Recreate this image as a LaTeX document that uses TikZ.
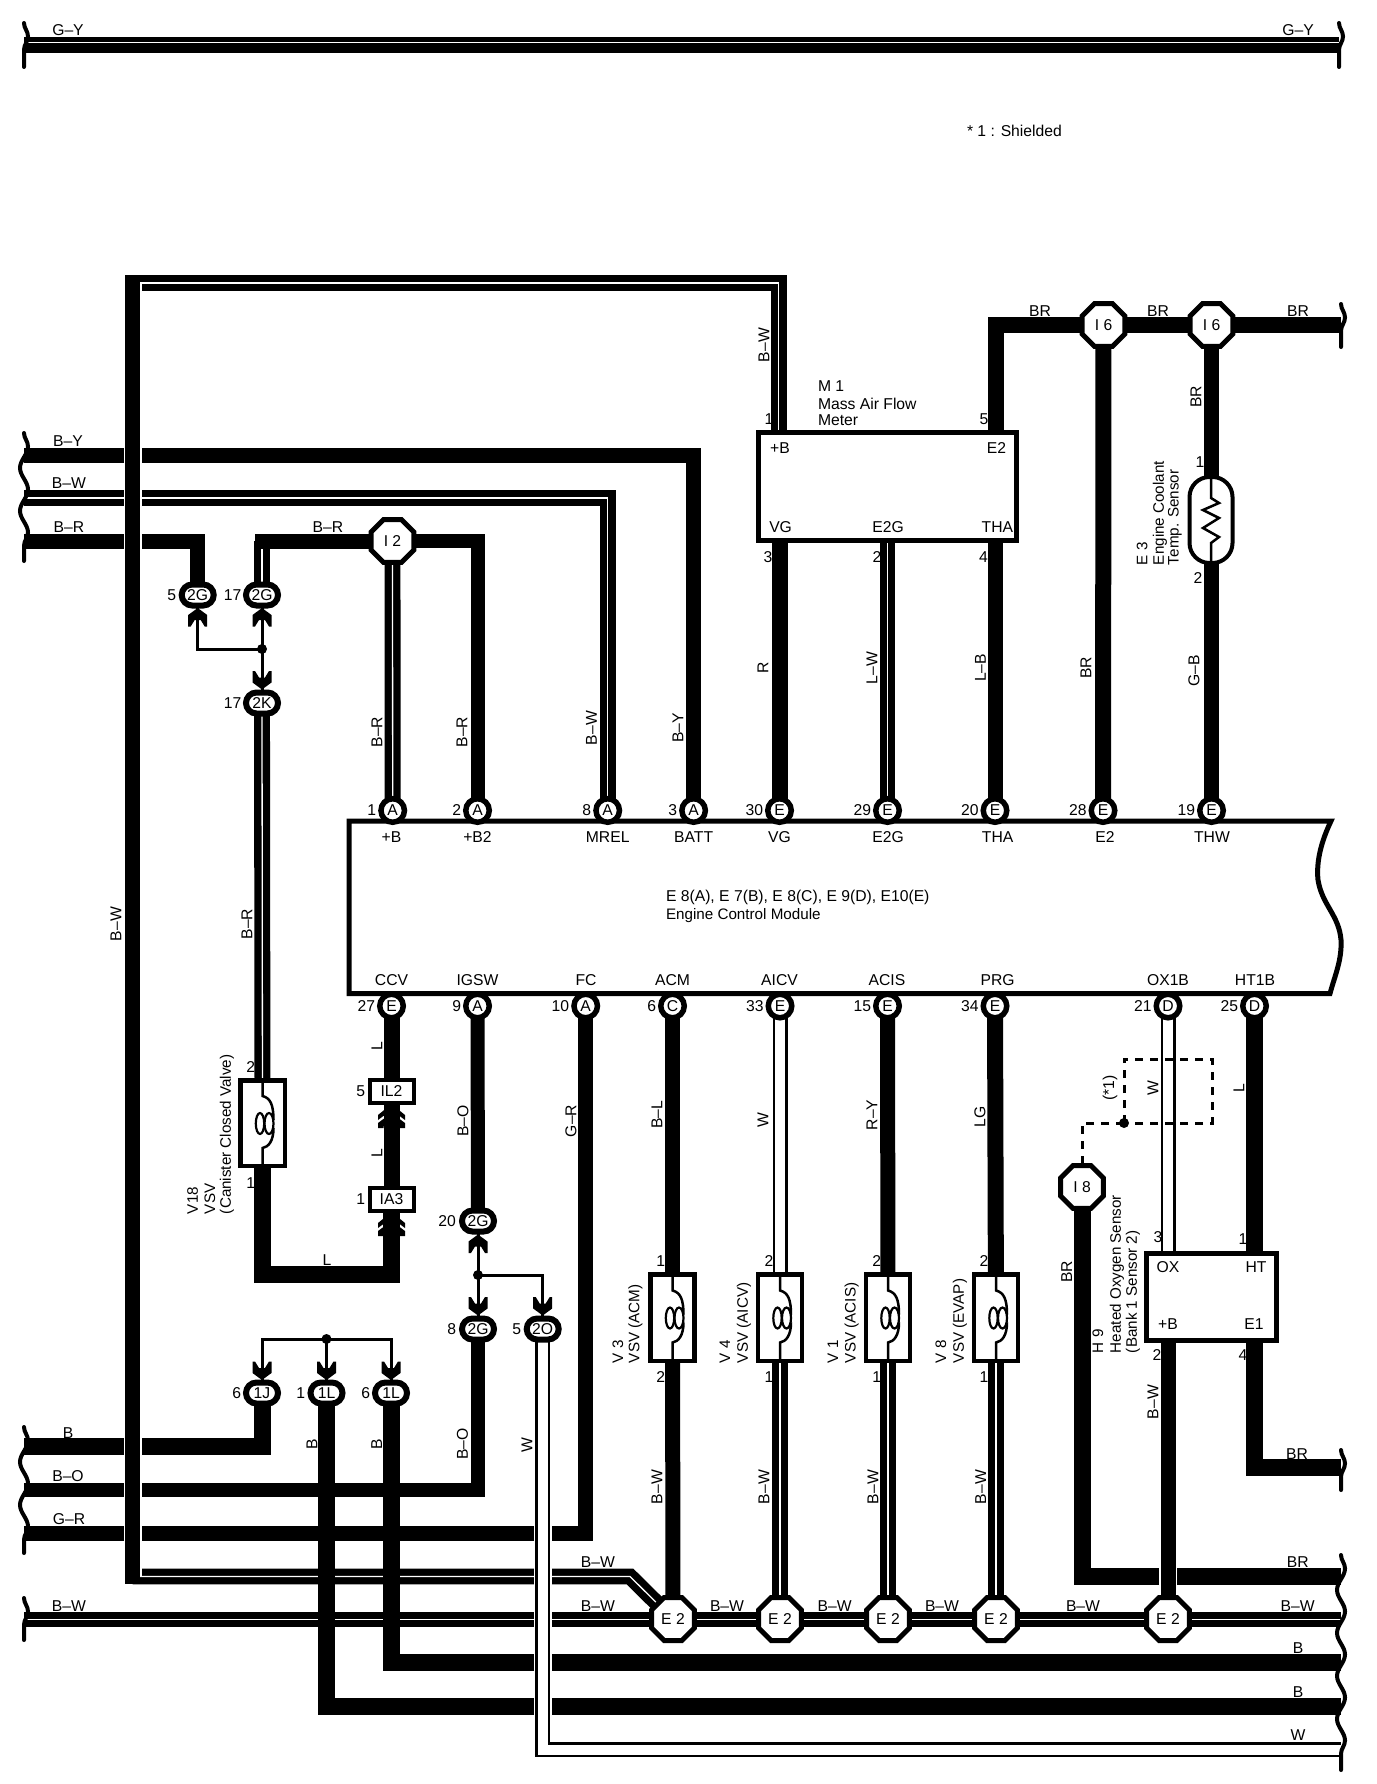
\documentclass[tikz,border=0pt]{standalone}
\usepackage{fontspec}
\setmainfont{Liberation Sans}
\usetikzlibrary{shapes.geometric,shapes.misc,backgrounds,decorations.pathmorphing}
\newcommand{\lf}{\fontsize{15.7}{19}\selectfont}
\newcommand{\lfsmall}{\fontsize{15.2}{19}\selectfont}
\tikzset{
 lab/.style={font=\lf,inner sep=0,outer sep=0},
 rlab/.style={lab,rotate=90},
 rlabw/.style={lab,font=\lfsmall,rotate=90,anchor=west,align=left},
 pinc/.style={circle,draw,line width=5.5,fill=white,minimum size=23.5,inner sep=0,outer sep=0,font=\lf},
 ovalc/.style={rounded rectangle,draw,line width=6,fill=white,minimum width=32,minimum height=21,inner sep=0,outer sep=0,font=\lf},
 octa/.style={regular polygon,regular polygon sides=8,draw,line width=5,fill=white,minimum size=46.5,inner sep=0,outer sep=0,font=\lf},
 boxn/.style={rectangle,draw,line width=4.5,fill=white,inner sep=0,outer sep=0,font=\lf},
 dotn/.style={circle,fill=black,minimum size=10,inner sep=0,outer sep=0},
 wire/.style={line width=16},
 wirea/.style={line width=14},
 wireb/.style={line width=15},
 wirec/.style={line width=17},
 stripe/.style={line width=7.3,double=white,double distance=1.3},
 whitew/.style={line width=2.5,double=white,double distance=10},
 thinw/.style={line width=3},
 halo/.style={white,line width=18},
 dashw/.style={line width=3,dash pattern=on 8pt off 7pt},
 wavy/.style={line width=4,line cap=round,decorate,decoration={snake,segment length=43,amplitude=4}},
 inner/.style={line width=2.5},
}
\newcommand{\pinnode}[5]{\node[pinc] (#1) at (#2,#3) {#4};\node[lab,anchor=east] (#1n) at ({#2-16.5},#3) {#5};}
\newcommand{\ovalnode}[6]{\node[ovalc] (#1) at (#2,#3) {#4};\node[lab] (#1n) at (#6,#3) {#5};}
\newcommand{\conarrow}[3]{\fill (#1,#2) -- ({#1+9.5},{#2+7*#3}) -- ({#1+9.5},{#2+18.5*#3}) -- ({#1+7},{#2+18.5*#3}) -- ({#1+3},{#2+12*#3}) -- ({#1-3},{#2+12*#3}) -- ({#1-7},{#2+18.5*#3}) -- ({#1-9.5},{#2+18.5*#3}) -- ({#1-9.5},{#2+7*#3}) -- cycle;}
\newcommand{\chevrons}[2]{\fill (#1,#2) -- ({#1+13.5},{#2+11}) -- ({#1+13.5},{#2+16}) -- (#1,{#2+6}) -- ({#1-13.5},{#2+16}) -- ({#1-13.5},{#2+11}) -- cycle;
 \fill (#1,{#2+9}) -- ({#1+13.5},{#2+19}) -- ({#1+13.5},{#2+24}) -- ({#1+8},{#2+24}) -- ({#1+8},{#2+22}) -- ({#1-8},{#2+22}) -- ({#1-8},{#2+24}) -- ({#1-13.5},{#2+24}) -- ({#1-13.5},{#2+19}) -- cycle;}
\newcommand{\coilsym}[2]{\begin{scope}[shift={(#1,#2)},inner]
\draw (0,-43) -- (0,-27) .. controls (8,-25) and (11,-18) .. (11,-3);
\draw (11,5) .. controls (11,18) and (6,24) .. (0,25) -- (0,43);
\draw[line width=2.2] (-2.5,0.5) ellipse (4.2 and 10.5);
\draw[line width=2.2] (6.5,0.5) ellipse (4.5 and 10.5);
\end{scope}}
\newcommand{\wavyend}[4]{\coordinate (#1a) at (#2,#3);\coordinate (#1b) at (#2,#4);\draw[wavy] (#1a) -- (#1b);}
\begin{document}
\begin{tikzpicture}[x=1pt,y=-1pt]
\useasboundingbox (0,0) rectangle (1376,1784);
% module and box outlines
\draw[line width=5,fill=white] (349,821) -- (1331,821) .. controls (1322,840) and (1316,860) .. (1318,880) .. controls (1322,905) and (1339,915) .. (1341,940) .. controls (1342,960) and (1335,975) .. (1330,993.5) -- (349,993.5) -- cycle;
\node[boxn,line width=5,minimum width=258,minimum height=108] (M1) at (887.5,486.5) {};
\node[boxn,line width=5,minimum width=130,minimum height=87] (H9) at (1211,1296.5) {};
\node[boxn,minimum width=44.5,minimum height=85.5] (V18) at (262.5,1123) {};
\node[boxn,minimum width=44,minimum height=86.5] (V3) at (672.5,1317.5) {};
\node[boxn,minimum width=44,minimum height=86.5] (V4) at (780,1317.5) {};
\node[boxn,minimum width=44,minimum height=86.5] (V1) at (888,1317.5) {};
\node[boxn,minimum width=44,minimum height=86.5] (V8) at (996,1317.5) {};
\node[boxn,line width=4,minimum width=44,minimum height=23] (IL2) at (391.5,1091.5) {IL2};
\node[boxn,line width=4,minimum width=44,minimum height=23] (IA3) at (391.5,1199.5) {IA3};
\node[boxn,line width=4,rounded corners=20,minimum width=43,minimum height=86] (E3) at (1211,520) {};
\coilsym{262.5}{1123}
\coilsym{672.5}{1317.5}
\coilsym{780}{1317.5}
\coilsym{888}{1317.5}
\coilsym{996}{1317.5}
\draw[inner] (1211,476) -- (1211,498) -- (1219,503) -- (1203,510) -- (1219,518) -- (1203,528) -- (1219,537) -- (1211,543) -- (1211,564);
% pins on the module
\pinnode{pA1}{392.7}{810.5}{A}{1}
\pinnode{pA2}{477.5}{810.5}{A}{2}
\pinnode{pA8}{607.7}{810.5}{A}{8}
\pinnode{pA3}{693.6}{810.5}{A}{3}
\pinnode{pE30}{779.5}{810.5}{E}{30}
\pinnode{pE29}{887.5}{810.5}{E}{29}
\pinnode{pE20}{995}{810.5}{E}{20}
\pinnode{pE28}{1103}{810.5}{E}{28}
\pinnode{pE19}{1211.5}{810.5}{E}{19}
\pinnode{pE27}{391.5}{1006}{E}{27}
\pinnode{pA9}{477.5}{1006}{A}{9}
\pinnode{pA10}{585.7}{1006}{A}{10}
\pinnode{pC6}{672.5}{1006}{C}{6}
\pinnode{pE33}{780}{1006}{E}{33}
\pinnode{pE15}{887.5}{1006}{E}{15}
\pinnode{pE34}{995}{1006}{E}{34}
\pinnode{pD21}{1168}{1006}{D}{21}
\pinnode{pD25}{1254.5}{1006}{D}{25}
% oval connectors
\ovalnode{g5}{197.7}{595}{2G}{5}{171.7}
\ovalnode{g17}{262}{595}{2G}{17}{232.7}
\ovalnode{k17}{262}{703}{2K}{17}{232.7}
\ovalnode{g20}{478}{1221}{2G}{20}{447}
\ovalnode{g8}{478}{1329}{2G}{8}{451.7}
\ovalnode{o5}{542.7}{1329}{2O}{5}{516.7}
\ovalnode{j6}{262}{1393}{1J}{6}{236.7}
\ovalnode{l1}{326.5}{1393}{1L}{1}{300.7}
\ovalnode{l6}{391}{1393}{1L}{6}{365.7}
% octagons
\node[octa] (I2) at (392.5,541) {I 2};
\node[octa] (I6a) at (1103.5,325) {I 6};
\node[octa] (I6b) at (1211.5,325) {I 6};
\node[octa] (I8) at (1082,1187) {I 8};
\node[octa] (E2a) at (673,1619) {E 2};
\node[octa] (E2b) at (780,1619) {E 2};
\node[octa] (E2c) at (888,1619) {E 2};
\node[octa] (E2d) at (996,1619) {E 2};
\node[octa] (E2e) at (1168,1619) {E 2};
% splice dots
\node[dotn] (d1) at (262,649) {};
\node[dotn] (d2) at (478,1275) {};
\node[dotn] (d3) at (326.5,1339) {};
\node[dotn] (dS) at (1124,1123) {};
% connector arrows
\conarrow{197.7}{608}{1}
\conarrow{262}{608}{1}
\conarrow{262}{689.5}{-1}
\conarrow{478}{1234.5}{1}
\conarrow{478}{1315.5}{-1}
\conarrow{542.7}{1315.5}{-1}
\conarrow{262}{1380}{-1}
\conarrow{326.5}{1380}{-1}
\conarrow{391}{1380}{-1}
\chevrons{391.5}{1104}
\chevrons{391.5}{1212}
% free ends
\wavyend{wT}{24}{23}{67}
\wavyend{wU}{1339}{23}{67}
\wavyend{wA}{24}{433}{561}
\wavyend{wB}{24}{1427}{1553}
\wavyend{wC}{24}{1598}{1640}
\wavyend{wD}{1341}{304}{347}
\wavyend{wE}{1341}{1450}{1490}
\wavyend{wF}{1341}{1555}{1770}
\coordinate (topL) at (24,45); \coordinate (topR) at (1339,45);
\coordinate (lBY) at (24,455); \coordinate (lBW) at (24,498); \coordinate (lBR) at (24,541.5);
\coordinate (lB) at (24,1446.5); \coordinate (lBO) at (24,1490); \coordinate (lGR) at (24,1533.5);
\coordinate (lBus) at (24,1619.5); \coordinate (rBus) at (1341,1619.5);
\coordinate (rBR) at (1341,325); \coordinate (rBRa) at (1341,1467); \coordinate (rBRb) at (1341,1576.5);
\coordinate (rB1) at (1341,1662.5); \coordinate (rB2) at (1341,1706.5); \coordinate (rW) at (1341,1749.5);
\coordinate (loopTL) at (132.5,283); \coordinate (loopBL) at (132.5,1576.5); \coordinate (loopD) at (630,1576.5);
\coordinate (mPlus) at (778.6,460); \coordinate (mE2) at (995.7,460);
\coordinate (cL) at (326,1274.5);
\coordinate (sA) at (1124,1059); \coordinate (sB) at (1212,1059); \coordinate (sC) at (1212,1123);
% labels
\foreach \x/\y/\t [count=\c] in {68/30/G–Y,1298/30/G–Y,68/441/B–Y,69/483/B–W,69/527/B–R,328/527/B–R,
 68/1433/B,68/1476/B–O,69/1519/G–R,69/1606/B–W,598/1562/B–W,598/1606/B–W,727/1606/B–W,834.6/1606/B–W,
 942/1606/B–W,1083/1606/B–W,1297.7/1606/B–W,1297.7/1562/BR,1298/1648/B,1298/1692/B,1298/1735/W,1297/1454/BR,
 1040/311/BR,1158/311/BR,1298/311/BR,327/1260/L,
 780/448/+B,996.5/448/E2,780.6/527/VG,888/527/E2G,997.4/527/THA,
 1168/1267/OX,1256/1267/HT,1168/1324/+B,1254/1324/E1,
 769/419/1,984/419/5,768/557/3,877/557/2,983.6/557/4,1200/462/1,1198/578/2,
 1158/1237/3,1243/1239/1,1157/1355/2,1243/1355/4,
 250.7/1067/2,250.7/1183/1,360.7/1091/5,360.7/1199/1,
 660.7/1261/1,660.7/1377/2,769/1261/2,769/1377/1,876.7/1261/2,876.7/1377/1,984/1261/2,984/1377/1,
 391.5/837/+B,477.5/837/+B2,607.7/837/MREL,693.6/837/BATT,779.5/837/VG,888/837/E2G,997.6/837/THA,1105/837/E2,1212/837/THW,
 391.5/980/CCV,477.5/980/IGSW,586/980/FC,672.5/980/ACM,779.5/980/AICV,887/980/ACIS,997.6/980/PRG,1168/980/OX1B,1255/980/HT1B}
 {\node[lab] (t\c) at (\x,\y) {\t};}
\foreach \x/\y/\t [count=\c] in {764/345/B–W,1196/397/BR,377/732/B–R,462/732/B–R,591.5/728/B–W,678/728/B–Y,763/668/R,872/668/L–W,980.5/668/L–B,1086/668/BR,1194/671/G–B,
 116/924/B–W,247/924/B–R,377/1046/L,377/1153/L,463/1121/B–O,571/1121/G–R,657/1115/B–L,763/1120/W,872/1115/R–Y,980/1117/LG,
 657/1487/B–W,764/1487/B–W,873/1487/B–W,980.7/1487/B–W,1066.7/1272/BR,1153/1402/B–W,1153/1088/W,1239/1088/L,1110/1088/(*1),
 312/1444/B,376.7/1444/B,462.5/1444/B–O,527/1445/W}
 {\node[rlab] (r\c) at (\x,\y) {\t};}
\foreach \x/\y/\t [count=\c] in {1098/1353/H 9,1117/1353/Heated Oxygen Sensor,1133/1353/(Bank 1 Sensor 2),
 192.7/1214/V18,210/1214/VSV,227/1214/(Canister Closed Valve),
 618/1363/V 3,635.5/1363/VSV (ACM),725/1363/V 4,744/1363/VSV (AICV),833/1363/V 1,851.7/1363/VSV (ACIS),941/1363/V 8,960/1363/VSV (EVAP),
 1142/565/E 3,1160/565/Engine Coolant,1175/565/Temp. Sensor}
 {\node[rlabw] (q\c) at (\x,\y) {\t};}
\node[lab,anchor=west] (shield) at (967,131) {* 1 : Shielded};
\node[lab,anchor=west] (m1a) at (818,386) {M 1};
\node[lab,anchor=west] (m1b) at (818,404) {Mass Air Flow};
\node[lab,anchor=west] (m1c) at (818,420) {Meter};
\node[lab,anchor=west] (ecua) at (666,897) {E 8(A), E 7(B), E 8(C), E 9(D), E10(E)};
\node[lab,anchor=west,font=\lfsmall] (ecub) at (666,916) {Engine Control Module};
% wiring, behind everything above
\begin{pgfonlayer}{background}
\fill[white] (0,0) rectangle (1376,1784);
\draw[wire] (topL) -- (topR);
\draw[white,line width=1.2] ([yshift=2.3pt]topL) -- ([yshift=2.3pt]topR);
\draw[wireb] (lBY) -| (pA3.center);
\draw[stripe] (lBW) -| (pA8.center);
\draw[wireb] (lBR) -| (g5.center);
\draw[stripe] (g17.center) -- (g17.center |- I2.center);
\draw[wireb,line cap=rect] (I2.center) -- (g17.center |- I2.center);
\draw[stripe] (I2.center) -- (pA1.center);
\draw[wirea] (I2.center) -| (pA2.center);
\draw[stripe] (k17.center) -- (V18.center);
\draw[thinw] (g5.center) |- (d1.center);
\draw[thinw] (g17.center) -- (k17.center);
\draw[wirec] (lB) -| (j6.center);
\draw[wirea] (lBO) -| (g8.center);
\draw[wireb] (lGR) -| (pA10.center);
\draw[stripe] (lBus) -- (rBus);
\draw[stripe] (loopTL) -- (loopTL -| mPlus) -- (mPlus);
\draw[stripe] (loopBL) -- (loopD) -- (E2a.center);
\draw[halo] (loopTL) -- (loopBL);
\draw[wireb,line cap=rect] (loopTL) -- (loopBL);
\draw[wirec] (l1.center) |- (rB2);
\draw[wirec] (l6.center) |- (rB1);
\draw[white,line width=18] (o5.center) |- (rW);
\draw[whitew] (o5.center) |- (rW);
\draw[wire] (rBR) -- (I6b.center) -- (I6a.center) -| (mE2);
\draw[wire] (pE30.center) -- (pE30.center |- M1.center);
\draw[stripe] (pE29.center) -- (pE29.center |- M1.center);
\draw[wireb] (pE20.center) -- (pE20.center |- M1.center);
\draw[wire] (I6a.center) -- (pE28.center);
\draw[wireb] (I6b.center) -- (pE19.center);
\draw[wire] (pE27.center) -- (IL2.center);
\draw[wire] (IL2.south) ++(0,-16) -- (IA3.center);
\draw[wirec] (IA3.south) ++(0,-16) |- (cL) -| (V18.center);
\draw[wirea] (pA9.center) -- (g20.center);
\draw[thinw] (g20.center) -- (g8.center);
\draw[thinw] (d2.center) -| (o5.center);
\draw[thinw] (j6.center) |- (d3.center);
\draw[thinw] (l6.center) |- (d3.center);
\draw[thinw] (l1.center) -- (d3.center);
\draw[wireb] (pC6.center) -- (V3.center);
\draw[whitew] (pE33.center) -- (V4.center);
\draw[wireb] (pE15.center) -- (V1.center);
\draw[wire] (pE34.center) -- (V8.center);
\draw[wireb] (V3.center) -- (E2a.center);
\draw[stripe] (V4.center) -- (E2b.center);
\draw[stripe] (V1.center) -- (E2c.center);
\draw[stripe] (V8.center) -- (E2d.center);
\draw[whitew] (pD21.center) -- (pD21.center |- H9.center);
\draw[wirec] (pD25.center) -- (pD25.center |- H9.center);
\draw[wirec] (pD25.center |- H9.center) |- (rBRa);
\draw[wirec] (I8.center) |- (rBRb);
\draw[white,line width=17.5] (pD21.center |- H9.center) -- (E2e.center);
\draw[wireb] (pD21.center |- H9.center) -- (E2e.center);
\draw[dashw] (dS.center) -- (sA) -- (sB) -- (sC) -- (dS.center);
\draw[dashw] (dS.center) -| (I8.center);
\end{pgfonlayer}
\end{tikzpicture}
\end{document}
